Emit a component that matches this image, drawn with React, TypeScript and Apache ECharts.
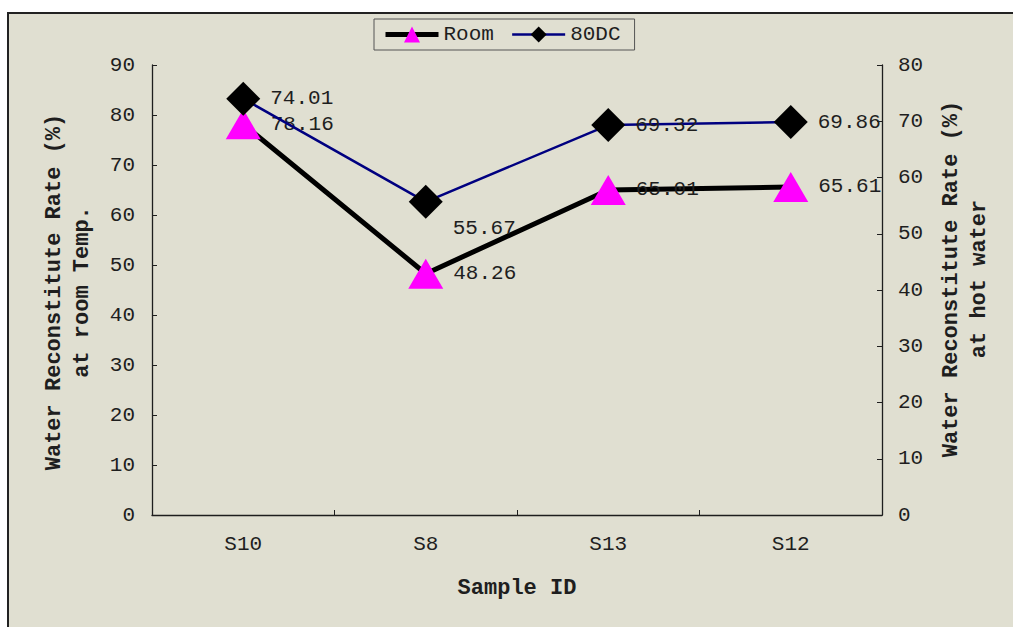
import React, { useEffect, useRef } from "react";
import * as echarts from "echarts";

const categories = ["S10", "S8", "S13", "S12"];
const roomValues = [78.16, 48.26, 65.01, 65.61];
const hotValues = [74.01, 55.67, 69.32, 69.86];
const leftTicks = { min: 0, max: 90, interval: 10 };
const rightTicks = { min: 0, max: 80, interval: 10 };

const MONO = "'Liberation Mono', 'Courier New', monospace";
const BG = "#E0DFD1";
const INK = "#1e1e1e";

export default function App() {
  const ref = useRef<HTMLDivElement>(null);
  useEffect(() => {
    if (!ref.current) return;
    const chart = echarts.init(ref.current, undefined, { renderer: "svg" });
    const axisLine = { show: true, lineStyle: { color: INK, width: 1.3 } };
    const axisTick = { show: true, inside: true, length: 5, lineStyle: { color: INK, width: 1 } };
    const tickLabel = { color: INK, fontFamily: MONO, fontSize: 21 };
    const titleStyle = { color: INK, fontFamily: MONO, fontSize: 22, fontWeight: "bold" as const, lineHeight: 28 };
    chart.setOption({
      animation: false,
      backgroundColor: "#ffffff",
      graphic: [
        {
          type: "rect",
          z: -100,
          silent: true,
          shape: { x: 8, y: 13, width: 1200, height: 800 },
          style: { fill: BG, stroke: "#222", lineWidth: 2 },
        },
      ],
      grid: { left: 152, right: 131, top: 65, bottom: 112, containLabel: false },
      legend: {
        left: 374,
        top: 19,
        padding: [5, 14, 5, 9],
        itemWidth: 53,
        itemHeight: 20,
        itemGap: 17,
        borderColor: "#555",
        borderWidth: 1,
        backgroundColor: BG,
        textStyle: { color: INK, fontFamily: MONO, fontSize: 21 },
        data: [
          {
            name: "Room",
            itemStyle: { color: "#FF00FF" },
            lineStyle: { color: "#000000", width: 5 },
          },
          {
            name: "80DC",
            itemStyle: { color: "#000000" },
            lineStyle: { color: "#000080", width: 2.5 },
          },
        ],
      },
      xAxis: {
        type: "category",
        data: categories,
        boundaryGap: true,
        name: "Sample ID",
        nameLocation: "middle",
        nameGap: 59,
        nameTextStyle: titleStyle,
        axisLine,
        axisTick: { ...axisTick, alignWithLabel: false },
        axisLabel: { ...tickLabel, margin: 19 },
        splitLine: { show: false },
      },
      yAxis: [
        {
          type: "value",
          position: "left",
          min: leftTicks.min,
          max: leftTicks.max,
          interval: leftTicks.interval,
          name: "Water Reconstitute Rate (%)\nat room Temp.",
          nameLocation: "middle",
          nameRotate: 90,
          nameGap: 56,
          nameTextStyle: { ...titleStyle, padding: [0, 4, 0, 0] },
          axisLine,
          axisTick,
          axisLabel: { ...tickLabel, margin: 17 },
          splitLine: { show: false },
        },
        {
          type: "value",
          position: "right",
          min: rightTicks.min,
          max: rightTicks.max,
          interval: rightTicks.interval,
          name: "Water Reconstitute Rate (%)\nat hot water",
          nameLocation: "middle",
          nameRotate: 90,
          nameGap: 55,
          nameTextStyle: { ...titleStyle, padding: [0, 0, 0, 22] },
          axisLine,
          axisTick,
          axisLabel: { ...tickLabel, margin: 16 },
          splitLine: { show: false },
        },
      ],
      series: [
        {
          name: "Room",
          type: "line",
          yAxisIndex: 0,
          data: roomValues,
          symbol: "triangle",
          symbolSize: [35, 30],
          lineStyle: { color: "#000000", width: 5 },
          itemStyle: { color: "#FF00FF", borderWidth: 0 },
          label: {
            show: true,
            position: "right",
            distance: 10,
            color: INK,
            fontFamily: MONO,
            fontSize: 21,
            formatter: (p: any) => Number(p.value).toFixed(2),
          },
          z: 2,
        },
        {
          name: "80DC",
          type: "line",
          yAxisIndex: 1,
          data: hotValues.map((v, i) =>
            i === 1 ? { value: v, label: { offset: [0, 27] } } : v
          ),
          symbol: "diamond",
          symbolSize: 34,
          lineStyle: { color: "#000080", width: 2.5 },
          itemStyle: { color: "#000000", borderWidth: 0 },
          label: {
            show: true,
            position: "right",
            distance: 10,
            color: INK,
            fontFamily: MONO,
            fontSize: 21,
            formatter: (p: any) => Number(p.value).toFixed(2),
          },
          z: 3,
        },
      ],
    });
    return () => chart.dispose();
  }, []);
  return (
    <div
      ref={ref}
      style={{ position: "absolute", left: 0, top: 0, width: 1013, height: 627 }}
    />
  );
}
